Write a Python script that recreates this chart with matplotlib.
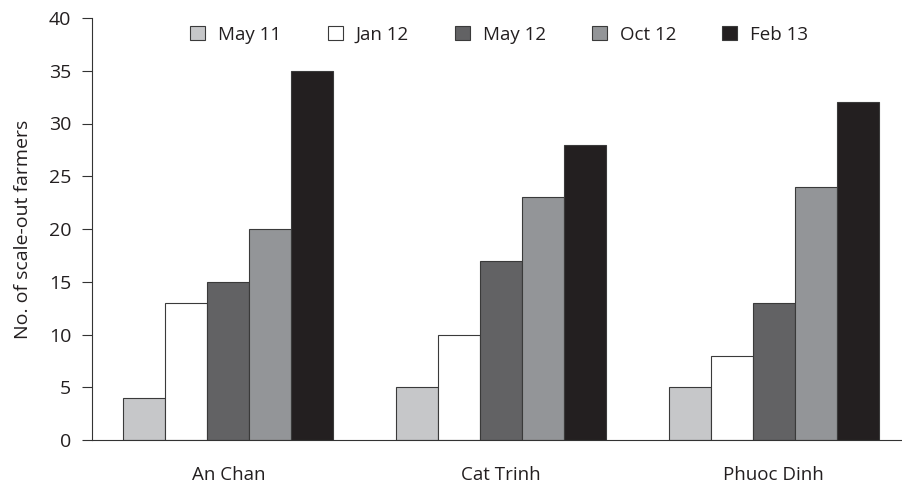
import matplotlib
matplotlib.use("Agg")
import matplotlib.pyplot as plt
import numpy as np

categories = ["An Chan", "Cat Trinh", "Phuoc Dinh"]
series_names = ["May 11", "Jan 12", "May 12", "Oct 12", "Feb 13"]
may11 = [4, 5, 5]
jan12 = [13, 10, 8]
may12 = [15, 17, 13]
oct12 = [20, 23, 24]
feb13 = [35, 28, 32]
yticks = [0, 5, 10, 15, 20, 25, 30, 35, 40]

series = [may11, jan12, may12, oct12, feb13]
colors = ["#c6c7c9", "#ffffff", "#626264", "#939598", "#231f20"]

plt.rcParams['font.family'] = ['Open Sans', 'DejaVu Sans']

fig = plt.figure(figsize=(9.03, 4.92), dpi=100)
ax = fig.add_axes([92/903, 1-440/492, (910-92)/903, (440-18)/492])

x = np.arange(len(categories))
w = 0.154
for i, (vals, c, name) in enumerate(zip(series, colors, series_names)):
    ax.bar(x + (i - 2) * w, vals, width=w, color=c, edgecolor="#3a3a3a",
           linewidth=0.8, label=name)

ax.set_xlim(-0.5, 2.5)
ax.set_ylim(0, 40)
ax.set_yticks(yticks)
ax.set_xticks(x)
ax.set_xticklabels(categories, fontsize=13.5, color="#231f20")
ax.tick_params(axis='x', length=0, pad=19)
ax.tick_params(axis='y', length=7, width=0.8, direction='out', labelsize=14, pad=8,
               color="#333333", labelcolor="#231f20")
for s in ["top", "right"]:
    ax.spines[s].set_visible(False)
ax.spines["left"].set_color("#333333")
ax.spines["bottom"].set_color("#333333")
ax.set_ylabel("No. of scale-out farmers", fontsize=14, labelpad=12, color="#231f20")

leg = ax.legend(loc="upper center", bbox_to_anchor=(0.5 - 0.002, 1.022), ncol=5, frameon=False,
          fontsize=13.5, handlelength=0.8, handleheight=0.8, handletextpad=0.7,
          columnspacing=2.45)
for t in leg.get_texts():
    t.set_color("#231f20")

fig.savefig("out.png", dpi=100)
